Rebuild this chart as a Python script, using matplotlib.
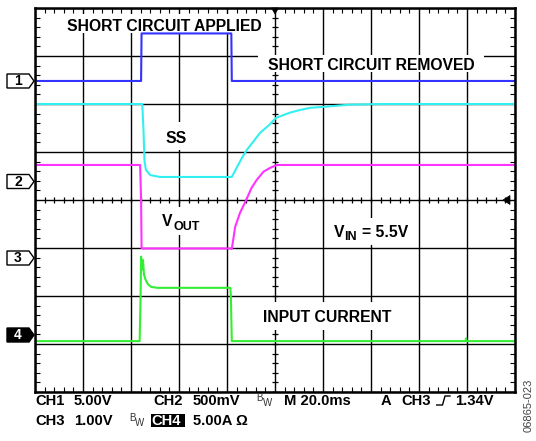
import matplotlib
matplotlib.use('Agg')
import matplotlib.pyplot as plt
import numpy as np
from matplotlib.patches import Polygon, Rectangle
from matplotlib.lines import Line2D
from matplotlib.collections import LineCollection

plt.rcParams['font.family'] = ['Liberation Sans', 'DejaVu Sans']

# ---------------- data (screen divisions: x 0..10, y 0..8) ----------------
ch1_t = [0.0, 2.21, 2.22, 4.09, 4.10, 10.0]
ch1_v = [6.48, 6.48, 7.47, 7.47, 6.48, 6.48]

ss_t = [0.0, 2.235, 2.26, 2.28, 2.31, 2.40, 2.60, 4.10, 4.20, 4.31, 4.41,
        4.69, 4.875, 5.02, 5.31, 5.52, 5.73, 6.00, 6.54, 7.19, 10.0]
ss_v = [6.0, 6.0, 5.46, 4.83, 4.63, 4.52, 4.48, 4.48, 4.67, 4.875, 5.04,
        5.40, 5.56, 5.71, 5.82, 5.875, 5.92, 5.94, 5.985, 6.0, 6.0]

vout_t = [0.0, 2.19, 2.21, 2.22, 2.24, 4.09, 4.10, 4.17, 4.27, 4.40, 4.51,
          4.62, 4.76, 4.90, 5.04, 10.0]
vout_v = [4.73, 4.73, 4.0, 3.0, 2.99, 2.99, 2.98, 3.44, 3.73, 4.0, 4.25,
          4.42, 4.59, 4.67, 4.73, 4.73]

iin_t = [0.0, 2.18, 2.20, 2.21, 2.23, 2.25, 2.27, 2.30, 2.35, 2.42, 2.55,
         4.07, 4.08, 4.10, 8.97, 8.98, 8.99, 10.0]
iin_v = [1.06, 1.06, 2.0, 2.82, 2.55, 2.75, 2.45, 2.35, 2.25, 2.19, 2.17,
         2.17, 2.0, 1.06, 1.06, 1.12, 1.06, 1.06]

marker_labels = ['1', '2', '3', '4']
marker_ypx = [81, 181.5, 258, 335]

W, H = 536, 441
fig = plt.figure(figsize=(W / 100, H / 100), dpi=100)
ax = fig.add_axes([35 / W, 1 - 392 / H, 480 / W, 384 / H])
ax.set_xlim(0, 10)
ax.set_ylim(0, 8)


def fx(x):
    return x / W


def fy(y):
    return 1 - y / H


def dx(x):
    return (x - 35) / 48.0


def dy(y):
    return (392 - y) / 48.0


# grid
ax.set_xticks(np.arange(0, 11, 1))
ax.set_yticks(np.arange(0, 9, 1))
ax.set_xticks(np.arange(0, 10.01, 0.2), minor=True)
ax.set_yticks(np.arange(0, 8.01, 0.2), minor=True)
ax.set_axisbelow(True)
ax.grid(True, which='major', color='black', lw=1.0)
ax.tick_params(which='major', length=0, labelbottom=False, labelleft=False)
ax.tick_params(which='minor', direction='in', length=3.6, width=0.8,
               top=True, right=True, bottom=True, left=True,
               labelbottom=False, labelleft=False)
for s in ax.spines.values():
    s.set_linewidth(1.8)
    s.set_zorder(5)

# center cross ticks
segs = []
for xv in np.arange(0, 10.01, 0.2):
    segs.append([(xv, 4 - 0.06), (xv, 4 + 0.06)])
for yv in np.arange(0, 8.01, 0.2):
    segs.append([(5 - 0.06, yv), (5 + 0.06, yv)])
ax.add_collection(LineCollection(segs, colors='black', linewidths=0.9, zorder=0.6))

# white boxes behind labels
boxes = [(62, 14, 270, 33), (258, 55, 484, 72), (160, 122, 192, 150),
         (155, 207, 210, 235), (328, 218, 415, 245), (257, 302, 398, 330)]
for x0, y0, x1, y1 in boxes:
    ax.add_patch(Rectangle((dx(x0), dy(y1)), dx(x1) - dx(x0), dy(y0) - dy(y1),
                           facecolor='white', edgecolor='none', zorder=1))

# traces
ax.plot(ch1_t, ch1_v, color='#3333ff', lw=1.5, zorder=3)
ax.plot(ss_t, ss_v, color='#33f0f0', lw=1.5, zorder=3)
ax.plot(vout_t, vout_v, color='#ff33ff', lw=1.5, zorder=3)
ax.plot(iin_t, iin_v, color='#33ee33', lw=1.5, zorder=3)

# labels
lab = dict(fontsize=11.3, fontweight='bold', va='baseline', ha='left')
fig.text(fx(66.7), fy(30.7), 'SHORT CIRCUIT APPLIED', **lab)
fig.text(fx(268), fy(70), 'SHORT CIRCUIT REMOVED', **lab)
fig.text(fx(165.7), fy(142.7), 'SS', **lab)
fig.text(fx(162), fy(226), 'V', **lab)
fig.text(fx(173), fy(230), 'OUT', fontsize=9, fontweight='bold', va='baseline', ha='left')
fig.text(fx(334), fy(237.3), 'V', **lab)
fig.text(fx(344.5), fy(240.5), 'IN', fontsize=9, fontweight='bold', va='baseline', ha='left')
fig.text(fx(362), fy(237.3), '= 5.5V', **lab)
fig.text(fx(263), fy(321.7), 'INPUT CURRENT', **lab)

# channel markers
for lbl, ym in zip(marker_labels, marker_ypx):
    filled = (lbl == '4')
    pts = [(fx(7), fy(ym - 7)), (fx(29), fy(ym - 7)), (fx(34), fy(ym)),
           (fx(29), fy(ym + 7)), (fx(7), fy(ym + 7))]
    fig.add_artist(Polygon(pts, closed=True, transform=fig.transFigure,
                           facecolor='black' if filled else 'white',
                           edgecolor='black', lw=1.0))
    fig.text(fx(18), fy(ym), lbl, fontsize=10, fontweight='bold',
             color='white' if filled else 'black', ha='center', va='center')

# trigger markers
fig.add_artist(Polygon([(fx(271.5), fy(8)), (fx(278.5), fy(8)), (fx(275), fy(14))],
                       closed=True, transform=fig.transFigure, facecolor='black',
                       edgecolor='black', lw=0.5, zorder=6))
fig.add_artist(Polygon([(fx(503), fy(200)), (fx(510), fy(195.5)), (fx(510), fy(204.5))],
                       closed=True, transform=fig.transFigure, facecolor='black',
                       edgecolor='black', lw=0.5, zorder=6))

# bottom status text
bt = dict(fontsize=10.6, fontweight='bold', va='baseline', ha='left')
r1, r2 = 405, 425
fig.text(fx(35), fy(r1), 'CH1', **bt)
fig.text(fx(74), fy(r1), '5.00V', **bt)
fig.text(fx(153.3), fy(r1), 'CH2', **bt)
fig.text(fx(192.7), fy(r1), '500mV', **bt)
fig.text(fx(256.7), fy(r1 - 4), 'B', fontsize=7, color='#333333', va='baseline')
fig.text(fx(262.5), fy(r1 + 0.5), 'W', fontsize=7, color='#333333', va='baseline')
fig.text(fx(284), fy(r1), 'M 20.0ms', **bt)
fig.text(fx(381), fy(r1), 'A', **bt)
fig.text(fx(401.7), fy(r1), 'CH3', **bt)
fig.add_artist(Line2D([fx(436.7), fx(442.5), fx(445), fx(450)],
                      [fy(405), fy(405), fy(396), fy(396)],
                      transform=fig.transFigure, color='black', lw=1.0))
fig.text(fx(455), fy(r1), '1.34V', **bt)

fig.text(fx(35), fy(r2), 'CH3', **bt)
fig.text(fx(74), fy(r2), '1.00V', **bt)
fig.text(fx(129), fy(r2 - 4), 'B', fontsize=7, color='#333333', va='baseline')
fig.text(fx(134.8), fy(r2 + 0.5), 'W', fontsize=7, color='#333333', va='baseline')
fig.add_artist(Rectangle((fx(150.7), fy(427)), fx(185) - fx(150.7), fy(414) - fy(427),
                         transform=fig.transFigure, facecolor='black', edgecolor='none'))
fig.text(fx(151.5), fy(r2), 'CH4', color='white', **bt)
fig.text(fx(193.3), fy(r2), '5.00A Ω', **bt)

fig.text(fx(529), fy(405), '06865-023', fontsize=8, color='#444444', rotation=90,
         ha='center', va='center')

fig.savefig('out.png', dpi=100)
